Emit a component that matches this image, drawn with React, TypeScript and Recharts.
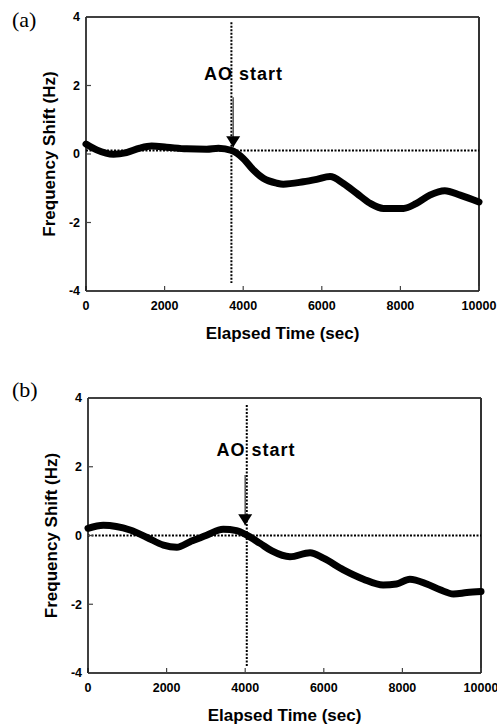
import { Line, LineChart, ReferenceDot, ReferenceLine, XAxis, YAxis } from "recharts";

const FONT = "'Liberation Sans', Arial, Helvetica, sans-serif";

const X_TICKS = [0, 2000, 4000, 6000, 8000, 10000];
const Y_TICKS = [-4, -2, 0, 2, 4];

// panel (a)
const TIME_A = [0, 270, 700, 1030, 1370, 1670, 2050, 2560, 3070, 3370, 3710, 4000, 4260, 4510, 4850, 5020, 5530, 5870, 6210, 6550, 6890, 7230, 7570, 8080, 8410, 8750, 9130, 9520, 10000];
const SHIFT_A = [0.29, 0.12, -0.01, 0.04, 0.17, 0.23, 0.2, 0.15, 0.14, 0.17, 0.1, -0.13, -0.47, -0.71, -0.85, -0.88, -0.81, -0.74, -0.66, -0.86, -1.15, -1.44, -1.59, -1.59, -1.44, -1.2, -1.07, -1.2, -1.4];

// panel (b)
const TIME_B = [0, 390, 1070, 1490, 1920, 2260, 2600, 3020, 3440, 3780, 4040, 4380, 4680, 5140, 5650, 5990, 6500, 7010, 7510, 7850, 8190, 8620, 8960, 9300, 9640, 10000];
const SHIFT_B = [0.21, 0.3, 0.16, -0.05, -0.28, -0.34, -0.18, 0.01, 0.18, 0.14, 0.01, -0.23, -0.45, -0.62, -0.5, -0.66, -1.0, -1.27, -1.44, -1.41, -1.27, -1.41, -1.58, -1.7, -1.66, -1.63];

// "AO start" marker, dotted guide lines and arrow, in data units
const NOTE_A = { markX: 3700, markTop: 3.85, markBottom: -3.77, zeroY: 0.1, arrowX: 3745, arrowFrom: 1.66, arrowTip: 0.2, textX: 4010, textY: 2.16 };
const NOTE_B = { markX: 4040, markTop: 3.8, markBottom: -3.82, zeroY: 0, arrowX: 4000, arrowFrom: 1.76, arrowTip: 0.3, textX: 4275, textY: 2.31 };

type Note = typeof NOTE_A;

type PanelProps = {
  tag: string;
  top: number;
  height: number;
  margin: { top: number; right: number; left: number; bottom: number };
  time: number[];
  shift: number[];
  note: Note;
};

const tickStyle = { fontSize: 12.5, fontWeight: 700, fill: "#000", fontFamily: FONT };

function Panel({ tag, top, height, margin, time, shift, note }: PanelProps) {
  const rows = time.map((t, i) => ({ t, v: shift[i] }));
  return (
    <div style={{ position: "absolute", left: 0, top, width: 497, height }}>
      <div
        style={{
          position: "absolute",
          left: 12,
          top: 8.6,
          fontFamily: "'Liberation Serif', 'Times New Roman', serif",
          fontSize: 22,
          lineHeight: 1,
          color: "#000",
        }}
      >
        {tag}
      </div>
      <LineChart width={497} height={height} data={rows} margin={margin}>
        <XAxis
          type="number"
          dataKey="t"
          domain={[0, 10000]}
          ticks={X_TICKS}
          height={30}
          tickSize={-5}
          tickMargin={15}
          tick={tickStyle}
          axisLine={{ stroke: "#000", strokeWidth: 1.5 }}
          tickLine={{ stroke: "#444", strokeWidth: 1.2 }}
          label={{
            content: (p: any) => {
              const vb = p.viewBox;
              return (
                <text
                  x={vb.x + vb.width / 2}
                  y={vb.y + 48}
                  textAnchor="middle"
                  fontFamily={FONT}
                  fontWeight={700}
                  fontSize={17}
                  fill="#000"
                >
                  Elapsed Time (sec)
                </text>
              );
            },
          }}
        />
        <YAxis
          type="number"
          domain={[-4, 4]}
          ticks={Y_TICKS}
          width={40}
          tickSize={-5}
          tickMargin={11}
          tick={tickStyle}
          axisLine={{ stroke: "#000", strokeWidth: 1.5 }}
          tickLine={{ stroke: "#444", strokeWidth: 1.2 }}
          label={{
            content: (p: any) => {
              const vb = p.viewBox;
              const x = vb.x + vb.width - 31;
              const y = vb.y + vb.height / 2;
              return (
                <text
                  x={x}
                  y={y}
                  transform={`rotate(-90 ${x} ${y})`}
                  textAnchor="middle"
                  fontFamily={FONT}
                  fontWeight={700}
                  fontSize={17}
                  fill="#000"
                >
                  Frequency Shift (Hz)
                </text>
              );
            },
          }}
        />
        <ReferenceLine y={4} stroke="#000" strokeWidth={1.5} />
        <ReferenceLine x={10000} stroke="#333" strokeWidth={2} />
        <ReferenceLine y={note.zeroY} stroke="#000" strokeWidth={2} strokeDasharray="2 1.5" />
        <ReferenceLine
          segment={[
            { x: note.markX, y: note.markTop },
            { x: note.markX, y: note.markBottom },
          ]}
          stroke="#000"
          strokeWidth={2}
          strokeDasharray="2 1.5"
        />
        <ReferenceLine
          segment={[
            { x: note.arrowX, y: note.arrowFrom },
            { x: note.arrowX, y: note.arrowTip },
          ]}
          stroke="#555"
          strokeWidth={1.5}
        />
        <ReferenceDot
          x={note.arrowX}
          y={note.arrowTip}
          shape={(p: any) => (
            <polygon
              points={`${p.cx - 7},${p.cy - 11} ${p.cx + 7},${p.cy - 11} ${p.cx},${p.cy}`}
              fill="#000"
            />
          )}
        />
        <ReferenceDot
          x={note.textX}
          y={note.textY}
          shape={(p: any) => (
            <text
              x={p.cx}
              y={p.cy}
              textAnchor="middle"
              fontFamily={FONT}
              fontWeight={700}
              fontSize={18}
              letterSpacing={1}
              fill="#000"
            >
              AO start
            </text>
          )}
        />
        <Line
          type="monotone"
          dataKey="v"
          stroke="#000"
          strokeWidth={7}
          strokeLinecap="round"
          dot={false}
          isAnimationActive={false}
        />
      </LineChart>
    </div>
  );
}

export default function App() {
  return (
    <div style={{ position: "absolute", left: 0, top: 0, width: 497, height: 726, background: "#fff" }}>
      <Panel
        tag="(a)"
        top={0}
        height={350}
        margin={{ top: 17, right: 18, left: 46, bottom: 29 }}
        time={TIME_A}
        shift={SHIFT_A}
        note={NOTE_A}
      />
      <Panel
        tag="(b)"
        top={370}
        height={356}
        margin={{ top: 28, right: 16, left: 48, bottom: 23 }}
        time={TIME_B}
        shift={SHIFT_B}
        note={NOTE_B}
      />
    </div>
  );
}
